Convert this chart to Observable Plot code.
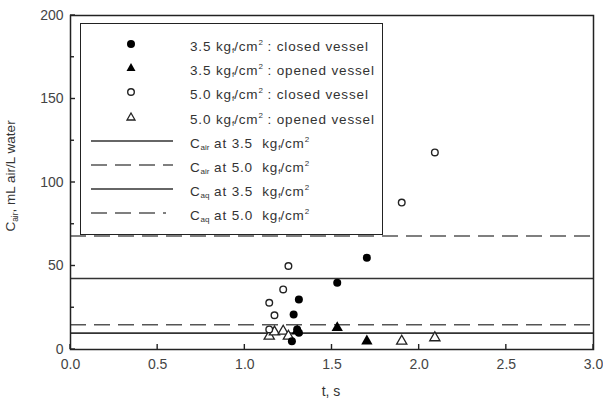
<!DOCTYPE html>
<html>
<head>
<meta charset="utf-8">
<script src="https://cdn.jsdelivr.net/npm/d3@7"></script>
<script src="https://cdn.jsdelivr.net/npm/@observablehq/plot@0.6"></script>
<style>
  body { margin: 0; background: #fff; font-family: "Liberation Sans", Arial, sans-serif; }
  #wrap { position: relative; width: 603px; height: 400px; }
  #legend { position: absolute; left: 80px; top: 23px; width: 303px; height: 212px; box-sizing: border-box;
            border: 1.4px solid #222; background: #fff; }
  #legend svg { position: absolute; left: 0; top: 0; }
  .lt { position: absolute; left: 109px; font-size: 13.5px; letter-spacing: 0.85px; color: #333; white-space: nowrap; line-height: 14px; }
  .lt sub, .lt sup { font-size: 8px; letter-spacing: 0; }
  .lt sub { vertical-align: -2px; } .lt sup { vertical-align: 6px; }
</style>
</head>
<body>
<div id="wrap"></div>
<script>
// closed / opened vessel measurements
const closed35T = [1.27, 1.28, 1.30, 1.31, 1.31, 1.53, 1.70];
const closed35Y = [5, 21, 12, 10, 30, 40, 55];
const opened35T = [1.30, 1.53, 1.70];
const opened35Y = [11, 13, 5];
const closed50T = [1.14, 1.14, 1.17, 1.22, 1.25, 1.90, 2.09];
const closed50Y = [12, 28, 20.5, 36, 50, 88, 118];
const opened50T = [1.14, 1.17, 1.22, 1.25, 1.90, 2.09];
const opened50Y = [8, 10.5, 11, 8, 5, 7];
// reference levels
const levelNames = ["Cair 3.5", "Cair 5.0", "Caq 3.5", "Caq 5.0"];
const levelValues = [42.5, 68, 9.8, 14.8];
const levelDashed = [false, true, false, true];
const xTicks = [0, 0.5, 1, 1.5, 2, 2.5, 3];
const yTicks = [0, 50, 100, 150, 200];
const yMinor = [25, 75, 125, 175];

const toRows = (T, Y) => T.map((t, i) => ({t, y: Y[i]}));
const c35 = toRows(closed35T, closed35Y), o35 = toRows(opened35T, opened35Y);
const c50 = toRows(closed50T, closed50Y), o50 = toRows(opened50T, opened50Y);
const levels = levelNames.map((n, i) => ({n, v: levelValues[i], dashed: levelDashed[i]}));

const ink = "#222";
const chart = Plot.plot({
  width: 603, height: 400,
  marginLeft: 70, marginRight: 10, marginTop: 15, marginBottom: 51,
  style: {fontFamily: "Liberation Sans, Arial, sans-serif", fontSize: "14px", color: "#444", background: "#fff"},
  x: {domain: [0, 3]},
  y: {domain: [0, 200]},
  marks: [
    Plot.ruleY(levels.filter(d => !d.dashed), {y: "v", stroke: "#333", strokeWidth: 1.6}),
    Plot.ruleY(levels.filter(d => d.dashed), {y: "v", stroke: "#555", strokeWidth: 1.6, strokeDasharray: "16,8"}),
    Plot.dot(o50, {x: "t", y: "y", symbol: "triangle", r: 3.8, stroke: ink, strokeWidth: 1.3, fill: "#fff"}),
    Plot.dot(c50, {x: "t", y: "y", symbol: "circle", r: 3.3, stroke: ink, strokeWidth: 1.4, fill: "#fff"}),
    Plot.dot(o35, {x: "t", y: "y", symbol: "triangle", r: 4.2, fill: "#000", stroke: "none"}),
    Plot.dot(c35, {x: "t", y: "y", symbol: "circle", r: 4, fill: "#000", stroke: "none"}),
    Plot.axisX({ticks: xTicks, tickFormat: d3.format(".1f"), tickSize: 0, tickPadding: 10, label: null}),
    Plot.axisY({ticks: yTicks, tickFormat: d3.format("d"), tickSize: 0, tickPadding: 7, label: null}),
    Plot.frame({stroke: ink, strokeWidth: 1.5})
  ]
});
const wrap = document.getElementById("wrap");
wrap.appendChild(chart);

const svg = d3.select(chart);
const sx = chart.scale("x"), sy = chart.scale("y");
const [x0] = sx.range, [yb] = sy.range;
// inward tick marks, positioned through Plot's scales
const tg = svg.append("g").attr("stroke", ink).attr("stroke-width", 1.4);
xTicks.forEach(v => tg.append("line").attr("x1", sx.apply(v)).attr("x2", sx.apply(v)).attr("y1", yb).attr("y2", yb - 5));
yTicks.forEach(v => tg.append("line").attr("x1", x0).attr("x2", x0 + 5).attr("y1", sy.apply(v)).attr("y2", sy.apply(v)));
yMinor.forEach(v => tg.append("line").attr("x1", x0).attr("x2", x0 + 4).attr("y1", sy.apply(v)).attr("y2", sy.apply(v)));

// axis titles
svg.append("text").attr("x", 331).attr("y", 396).attr("text-anchor", "middle")
  .attr("font-size", 14).attr("fill", "#333").text("t, s");
const yt = svg.append("text").attr("transform", "translate(15,176) rotate(-90)").attr("text-anchor", "middle")
  .attr("font-size", 13.5).attr("fill", "#333");
yt.append("tspan").text("C");
yt.append("tspan").attr("dy", 3).attr("font-size", 8.5).text("air");
yt.append("tspan").attr("dy", -3).text(", mL air/L water");

// legend
const leg = document.createElement("div");
leg.id = "legend";
const rowsY = [20, 44, 68, 93, 117, 141, 165, 189];
let sv = `<svg width="303" height="212">`;
sv += `<circle cx="50" cy="${rowsY[0]}" r="4" fill="#000"/>`;
sv += `<path d="M50,${rowsY[1]-5} L54.5,${rowsY[1]+3} L45.5,${rowsY[1]+3} Z" fill="#000"/>`;
sv += `<circle cx="50" cy="${rowsY[2]}" r="3.3" fill="#fff" stroke="#222" stroke-width="1.4"/>`;
sv += `<path d="M50,${rowsY[3]-4} L54,${rowsY[3]+3} L46,${rowsY[3]+3} Z" fill="#fff" stroke="#222" stroke-width="1.3"/>`;
sv += `<line x1="10" x2="92" y1="${rowsY[4]}" y2="${rowsY[4]}" stroke="#333" stroke-width="1.6"/>`;
sv += `<line x1="10" x2="92" y1="${rowsY[5]}" y2="${rowsY[5]}" stroke="#555" stroke-width="1.6" stroke-dasharray="16,8"/>`;
sv += `<line x1="10" x2="92" y1="${rowsY[6]}" y2="${rowsY[6]}" stroke="#333" stroke-width="1.6"/>`;
sv += `<line x1="10" x2="85" y1="${rowsY[7]}" y2="${rowsY[7]}" stroke="#555" stroke-width="1.6" stroke-dasharray="16,8"/>`;
sv += `</svg>`;
const kg = `kg<sub>f</sub>/cm<sup>2</sup>`;
const labels = [
  `3.5 ${kg} : closed vessel`,
  `3.5 ${kg} : opened vessel`,
  `5.0 ${kg} : closed vessel`,
  `5.0 ${kg} : opened vessel`,
  `C<sub>air</sub> at 3.5&nbsp; ${kg}`,
  `C<sub>air</sub> at 5.0&nbsp; ${kg}`,
  `C<sub>aq</sub> at 3.5&nbsp; ${kg}`,
  `C<sub>aq</sub> at 5.0&nbsp; ${kg}`
];
leg.innerHTML = sv + labels.map((l, i) => `<div class="lt" style="top:${rowsY[i]-8}px">${l}</div>`).join("");
wrap.appendChild(leg);
</script>
</body>
</html>
